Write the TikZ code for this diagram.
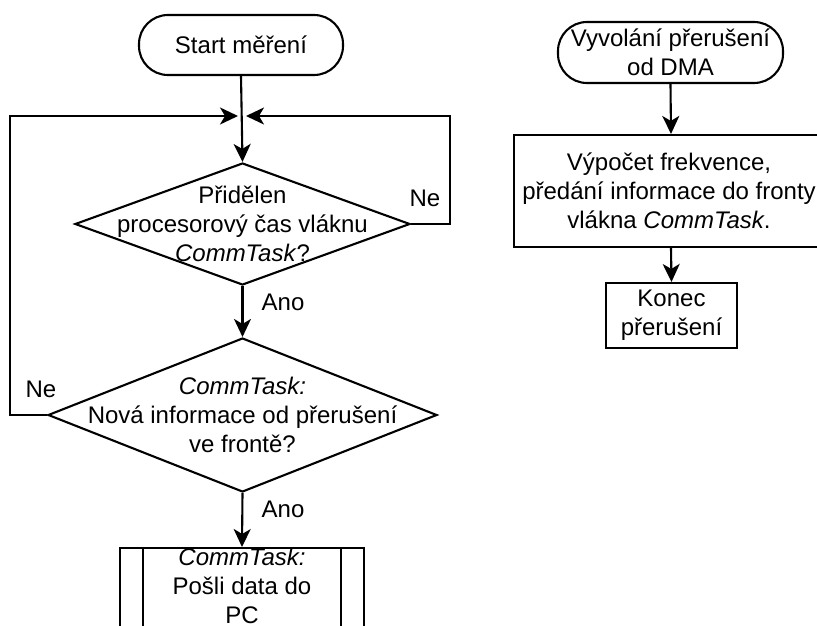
\documentclass[tikz,border=0pt]{standalone}
\usepackage{fontspec}
\setmainfont{Liberation Sans}
\usetikzlibrary{arrows.meta,shapes.geometric}
\begin{document}
\begin{tikzpicture}[x=1pt,y=-1pt,line width=2.1pt,
  every node/.style={font=\fontsize{24}{29}\selectfont},
  term/.style={draw,rectangle,rounded corners=29pt,inner sep=0pt,align=center},
  procbox/.style={draw,rectangle,inner sep=0pt,align=center},
  dia/.style={draw,diamond,inner sep=0pt},
  txt/.style={align=center,inner sep=0pt},
  arr/.style={-{Stealth[length=18pt,width=17pt,inset=5pt]}}]
\useasboundingbox (0,0) rectangle (817,626);
\clip (0,0) rectangle (817,626);
% left flow
\node[term,minimum width=204pt,minimum height=60pt] (start) at (241,45) {Start měření};
\node[dia,minimum width=335pt,minimum height=122pt] (d1) at (242.5,224) {};
\node[txt] (d1t) at (d1.center) {Přidělen\\procesorový čas vláknu\\\textit{CommTask}?};
\node[dia,minimum width=389pt,minimum height=154pt] (d2) at (242.5,415) {};
\node[txt] (d2t) at (d2.center) {\textit{CommTask:}\\Nová informace od přerušení\\ve frontě?};
\node[procbox,minimum width=244pt,minimum height=84pt,anchor=north] (sub) at (242,547) {};
\node[txt] (subt) at (242,586) {\textit{CommTask:}\\Pošli data do\\PC};
\draw[line width=1.6pt] ([xshift=24pt]sub.north west) -- ([xshift=24pt]sub.south west);
\draw[line width=1.6pt] ([xshift=-24pt]sub.north east) -- ([xshift=-24pt]sub.south east);
\coordinate (mL) at (238,116);
\coordinate (mR) at (246,116);
\draw[arr] (start.south) -- (d1.north);
\draw[arr] (d1.east) -- (450,224) -- (450,116) -- (mR);
\draw[arr] (d2.west) -- (10,415) -- (10,116) -- (mL);
\draw[arr] (d1.south) -- (d2.north);
\draw[arr] (d2.south) -- (sub.north);
\node[txt] (ne1) at (425,198) {Ne};
\node[txt] (ano1) at (283,302) {Ano};
\node[txt] (ne2) at (41,389) {Ne};
\node[txt] (ano2) at (283,509) {Ano};
% right flow
\node[term,minimum width=225pt,minimum height=61pt] (dma) at (670.5,52.5) {};
\node[txt] (dmat) at (dma.center) {Vyvolání přerušení\\od DMA};
\node[procbox,minimum width=314pt,minimum height=112pt] (proc) at (671,191) {};
\node[txt] (proct) at (669,191) {Výpočet frekvence,\\předání informace do fronty\\vlákna \textit{CommTask}.};
\node[procbox,minimum width=131pt,minimum height=65pt] (konec) at (671.5,315.5) {Konec\\přerušení};
\draw[arr] (dma.south) -- (proc.north);
\draw[arr] (proc.south) -- (konec.north);
\end{tikzpicture}
\end{document}
